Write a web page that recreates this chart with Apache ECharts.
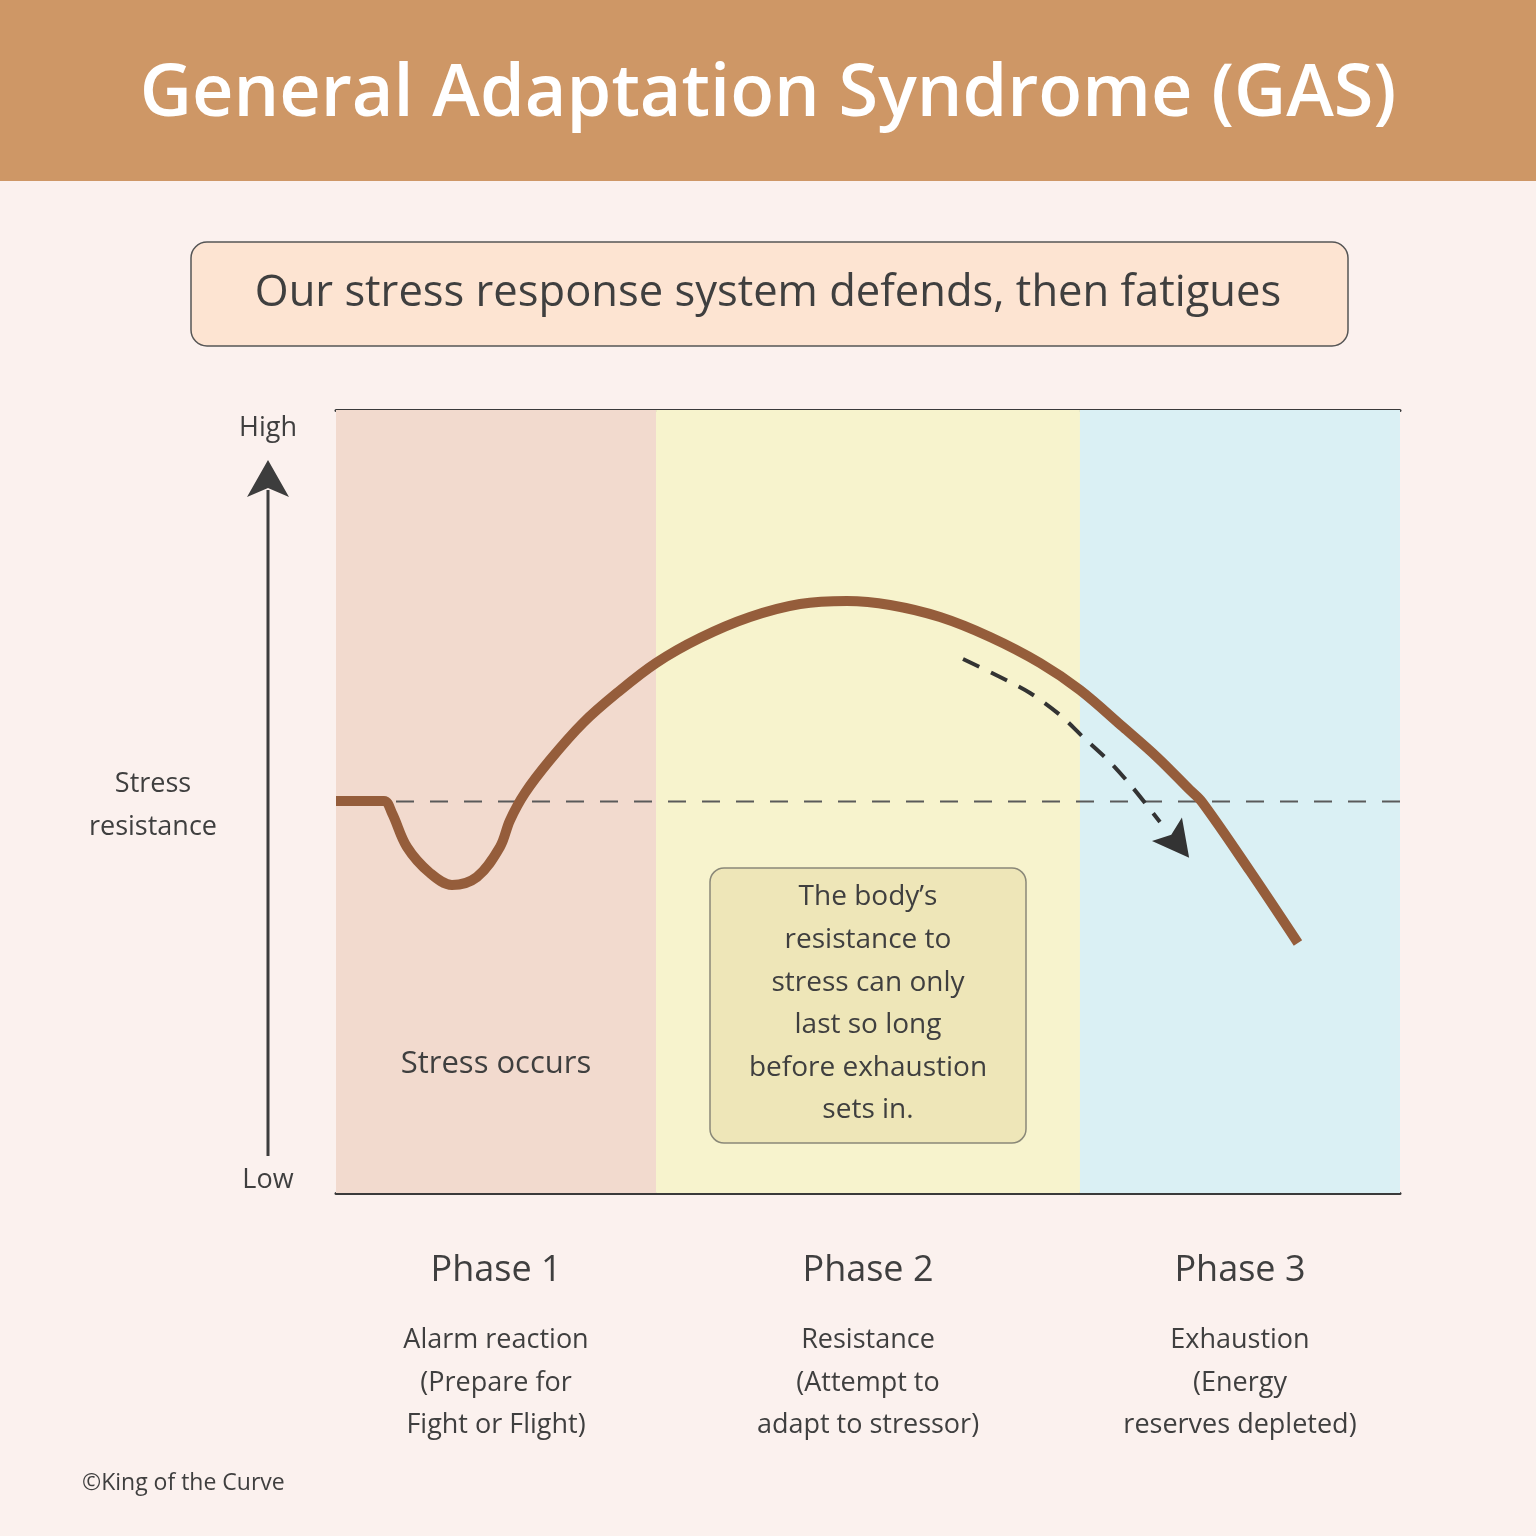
<!DOCTYPE html>
<html>
<head>
<meta charset="utf-8">
<title>General Adaptation Syndrome (GAS)</title>
<script src="https://cdn.jsdelivr.net/npm/echarts@6/dist/echarts.min.js"></script>
<style>
  html, body { margin: 0; padding: 0; background: #fbf1ee; }
  #chart { width: 1536px; height: 1536px; }
</style>
</head>
<body>
<div id="chart"></div>
<script>
// x: time 0..100 across the plot, y: stress resistance 0 (low) .. 100 (high)
var phaseBounds = [0, 30.08, 69.92, 100];
var phaseNames = ['Phase 1', 'Phase 2', 'Phase 3'];
var phaseDesc = [
  'Alarm reaction\n(Prepare for\nFight or Flight)',
  'Resistance\n(Attempt to\nadapt to stressor)',
  'Exhaustion\n(Energy\nreserves depleted)'
];
var baselineLevel = 50;
var baselineStart = 5.64;

var resistanceCurve = [
  [0, 50.06], [4.51, 50.06], [5.26, 48.53], [6.67, 44.19], [8.83, 40.87],
  [10.9, 39.34], [13.25, 40.36], [15.41, 44.19], [16.35, 47.6], [17.76, 51.09],
  [20.11, 55.3], [23.21, 60.03], [26.41, 63.86], [30.08, 67.69], [34.21, 70.88],
  [38.91, 73.56], [43.61, 75.22], [48.03, 75.61], [52.07, 75.1], [56.77, 73.56],
  [61.47, 71.01], [66.17, 67.69], [69.92, 64.24], [73.97, 59.51], [77.16, 55.68],
  [80.26, 51.47], [81.39, 49.94], [85.9, 41.12], [90.41, 31.93]
];

var declinePath = [
  [58.93, 68.2], [62.41, 65.9], [65.23, 63.86], [68.05, 61.05], [70.21, 58.24],
  [72.74, 55.04], [74.91, 51.72], [77.44, 47.38]
];
var declineHead = [[79.14, 44.64]];

var FONT = '"Open Sans", "Noto Sans", sans-serif';
var INK = '#3f3f3f';

var chart = echarts.init(document.getElementById('chart'));

var bandColors = ['#f2dace', '#f7f3cd', '#daf0f4'];
var bands = [];
for (var i = 0; i < 3; i++) {
  bands.push([
    { xAxis: phaseBounds[i], itemStyle: { color: bandColors[i] } },
    { xAxis: phaseBounds[i + 1] }
  ]);
}

var option = {
  backgroundColor: '#fbf1ee',
  animation: false,
  grid: { left: 336, right: 136, top: 410, bottom: 343 },
  xAxis: [
    {
      type: 'value', min: 0, max: 100, position: 'bottom',
      axisLine: { show: true, lineStyle: { color: '#3a3a3a', width: 3 } },
      axisTick: { show: false }, axisLabel: { show: false }, splitLine: { show: false }
    },
    {
      type: 'value', min: 0, max: 100, position: 'top',
      axisLine: { show: true, lineStyle: { color: '#3a3a3a', width: 3 } },
      axisTick: { show: false }, axisLabel: { show: false }, splitLine: { show: false }
    }
  ],
  yAxis: {
    type: 'value', min: 0, max: 100,
    axisLine: { show: false }, axisTick: { show: false },
    axisLabel: { show: false }, splitLine: { show: false }
  },
  series: [
    {
      // baseline + phase bands
      type: 'line',
      data: [[baselineStart, baselineLevel], [100, baselineLevel]],
      symbol: 'none',
      lineStyle: { color: '#5a5a5a', width: 2, type: [18, 16] },
      z: 2,
      markArea: { silent: true, data: bands }
    },
    {
      type: 'line',
      data: resistanceCurve,
      symbol: 'none',
      smooth: 0.35,
      lineStyle: { color: '#955d3b', width: 10, cap: 'butt', join: 'round' },
      z: 4
    },
    {
      type: 'line',
      data: declinePath,
      symbol: 'none',
      smooth: 0.3,
      lineStyle: { color: '#333333', width: 4, type: [18, 13] },
      z: 5
    },
    {
      type: 'scatter',
      data: declineHead,
      symbol: 'path://M0,0 L19,36 L0,29 L-19,36 Z',
      symbolSize: [38, 36],
      symbolRotate: -142,
      itemStyle: { color: '#333333', opacity: 1 },
      z: 6
    }
  ],
  graphic: [
    { type: 'rect', shape: { x: 0, y: 0, width: 1536, height: 181 }, style: { fill: '#ce9766' }, z: 1 },
    {
      type: 'text', x: 768, y: 95, z: 2,
      style: { text: 'General Adaptation Syndrome (GAS)', fill: '#ffffff', font: '600 72px ' + FONT, textAlign: 'center', textVerticalAlign: 'middle' }
    },
    {
      type: 'rect', shape: { x: 191, y: 242, width: 1157, height: 104, r: 16 },
      style: { fill: '#fde4d2', stroke: '#555555', lineWidth: 1.5 }, z: 1
    },
    {
      type: 'text', x: 768, y: 294, z: 2,
      style: { text: 'Our stress response system defends, then fatigues', fill: INK, font: '43.5px ' + FONT, textAlign: 'center', textVerticalAlign: 'middle' }
    },
    // vertical axis arrow
    { type: 'line', shape: { x1: 268, y1: 1156, x2: 268, y2: 490 }, style: { stroke: '#3d3d3d', lineWidth: 3 }, z: 2 },
    { type: 'polygon', shape: { points: [[268, 460], [289, 497], [268, 488], [247, 497]] }, style: { fill: '#3d3d3d' }, z: 2 },
    {
      type: 'text', x: 268, y: 428, z: 2,
      style: { text: 'High', fill: INK, font: '27px ' + FONT, textAlign: 'center', textVerticalAlign: 'middle' }
    },
    {
      type: 'text', x: 268, y: 1180, z: 2,
      style: { text: 'Low', fill: INK, font: '27px ' + FONT, textAlign: 'center', textVerticalAlign: 'middle' }
    },
    {
      type: 'text', x: 153, y: 806, z: 2,
      style: { text: 'Stress\nresistance', fill: INK, font: '27px ' + FONT, lineHeight: 43, textAlign: 'center', textVerticalAlign: 'middle' }
    },
    {
      type: 'text', x: 496, y: 1064, z: 10,
      style: { text: 'Stress occurs', fill: INK, font: '31px ' + FONT, textAlign: 'center', textVerticalAlign: 'middle' }
    },
    {
      type: 'rect', shape: { x: 710, y: 868, width: 316, height: 275, r: 14 },
      style: { fill: '#eee6b8', stroke: '#8a8878', lineWidth: 1.5 }, z: 10
    },
    {
      type: 'text', x: 868, y: 1004, z: 11,
      style: {
        text: 'The body\u2019s\nresistance to\nstress can only\nlast so long\nbefore exhaustion\nsets in.',
        fill: INK, font: '28px ' + FONT, lineHeight: 42.6, textAlign: 'center', textVerticalAlign: 'middle'
      }
    },
    {
      type: 'text', x: 82, y: 1483, z: 2,
      style: { text: '\u00a9King of the Curve', fill: INK, font: '23px ' + FONT, textAlign: 'left', textVerticalAlign: 'middle' }
    }
  ]
};

// phase captions under each band
for (var p = 0; p < 3; p++) {
  var cx = 336 + (phaseBounds[p] + phaseBounds[p + 1]) / 2 * 10.64;
  option.graphic.push({
    type: 'text', x: cx, y: 1271, z: 2,
    style: { text: phaseNames[p], fill: INK, font: '36px ' + FONT, textAlign: 'center', textVerticalAlign: 'middle' }
  });
  option.graphic.push({
    type: 'text', x: cx, y: 1383, z: 2,
    style: { text: phaseDesc[p], fill: INK, font: '27px ' + FONT, lineHeight: 42.5, textAlign: 'center', textVerticalAlign: 'middle' }
  });
}

chart.setOption(option);
</script>
</body>
</html>
